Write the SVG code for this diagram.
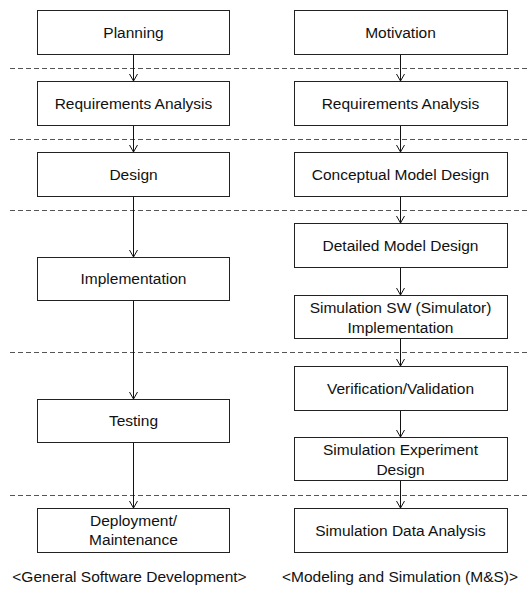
<svg xmlns="http://www.w3.org/2000/svg" width="532" height="592" viewBox="0 0 532 592">
<style>
.box{fill:#fff;stroke:#222;stroke-width:1}
.t{font-family:"Liberation Sans",Arial,sans-serif;font-size:15.5px;fill:#111;text-anchor:middle}
.dash{stroke:#555;stroke-width:1;stroke-dasharray:5 3;fill:none}
.conn{stroke:#111;stroke-width:1;fill:none;marker-end:url(#arr)}
</style>
<defs>
<marker id="arr" markerUnits="userSpaceOnUse" markerWidth="12" markerHeight="12" viewBox="-9 -6 12 12" refX="0" refY="0" orient="auto">
<path d="M-7,-4 L0,0 L-7,4" fill="none" stroke="#111" stroke-width="1"/>
</marker>
</defs>
<g id="separators">
<line class="dash" x1="10" y1="68.5" x2="528" y2="68.5"/>
<line class="dash" x1="10" y1="139.5" x2="528" y2="139.5"/>
<line class="dash" x1="10" y1="210.5" x2="528" y2="210.5"/>
<line class="dash" x1="10" y1="352.5" x2="528" y2="352.5"/>
<line class="dash" x1="10" y1="495.5" x2="528" y2="495.5"/>
</g>
<g id="connectors">
<line class="conn" x1="133.5" y1="54" x2="133.5" y2="81"/>
<line class="conn" x1="133.5" y1="125" x2="133.5" y2="152"/>
<line class="conn" x1="133.5" y1="196" x2="133.5" y2="257"/>
<line class="conn" x1="133.5" y1="300" x2="133.5" y2="399"/>
<line class="conn" x1="133.5" y1="442" x2="133.5" y2="508"/>
<line class="conn" x1="400.5" y1="54" x2="400.5" y2="81"/>
<line class="conn" x1="400.5" y1="125" x2="400.5" y2="152"/>
<line class="conn" x1="400.5" y1="196" x2="400.5" y2="223"/>
<line class="conn" x1="400.5" y1="267" x2="400.5" y2="295"/>
<line class="conn" x1="400.5" y1="338" x2="400.5" y2="366"/>
<line class="conn" x1="400.5" y1="410" x2="400.5" y2="437"/>
<line class="conn" x1="400.5" y1="480" x2="400.5" y2="508"/>
</g>
<g id="planning"><rect class="box" x="37.5" y="10.5" width="192" height="44"/><text class="t" x="133.5" y="37.5">Planning</text></g>
<g id="req-left"><rect class="box" x="37.5" y="81.5" width="192" height="44"/><text class="t" x="133.5" y="108.5">Requirements Analysis</text></g>
<g id="design"><rect class="box" x="37.5" y="152.5" width="192" height="44"/><text class="t" x="133.5" y="179.5">Design</text></g>
<g id="implementation"><rect class="box" x="37.5" y="257.5" width="192" height="43"/><text class="t" x="133.5" y="284">Implementation</text></g>
<g id="testing"><rect class="box" x="37.5" y="399.5" width="192" height="43"/><text class="t" x="133.5" y="426">Testing</text></g>
<g id="deployment"><rect class="box" x="37.5" y="508.5" width="192" height="44"/><text class="t" x="133.5" y="526">Deployment/</text><text class="t" x="133.5" y="545">Maintenance</text></g>
<g id="motivation"><rect class="box" x="294.5" y="10.5" width="213" height="44"/><text class="t" x="400.5" y="37.5">Motivation</text></g>
<g id="req-right"><rect class="box" x="294.5" y="81.5" width="213" height="44"/><text class="t" x="400.5" y="108.5">Requirements Analysis</text></g>
<g id="conceptual"><rect class="box" x="294.5" y="152.5" width="213" height="44"/><text class="t" x="400.5" y="179.5">Conceptual Model Design</text></g>
<g id="detailed"><rect class="box" x="294.5" y="223.5" width="213" height="44"/><text class="t" x="400.5" y="250.5">Detailed Model Design</text></g>
<g id="simsw"><rect class="box" x="294.5" y="295.5" width="213" height="43"/><text class="t" x="400.5" y="312.5">Simulation SW (Simulator)</text><text class="t" x="400.5" y="332.5">Implementation</text></g>
<g id="vv"><rect class="box" x="294.5" y="366.5" width="213" height="44"/><text class="t" x="400.5" y="393.5">Verification/Validation</text></g>
<g id="simexp"><rect class="box" x="294.5" y="437.5" width="213" height="43"/><text class="t" x="400.5" y="455">Simulation Experiment</text><text class="t" x="400.5" y="475">Design</text></g>
<g id="simdata"><rect class="box" x="294.5" y="508.5" width="213" height="44"/><text class="t" x="400.5" y="535.5">Simulation Data Analysis</text></g>
<g id="captions">
<text class="t" x="129.5" y="582">&lt;General Software Development&gt;</text>
<text class="t" x="400" y="582">&lt;Modeling and Simulation (M&amp;S)&gt;</text>
</g>
</svg>
